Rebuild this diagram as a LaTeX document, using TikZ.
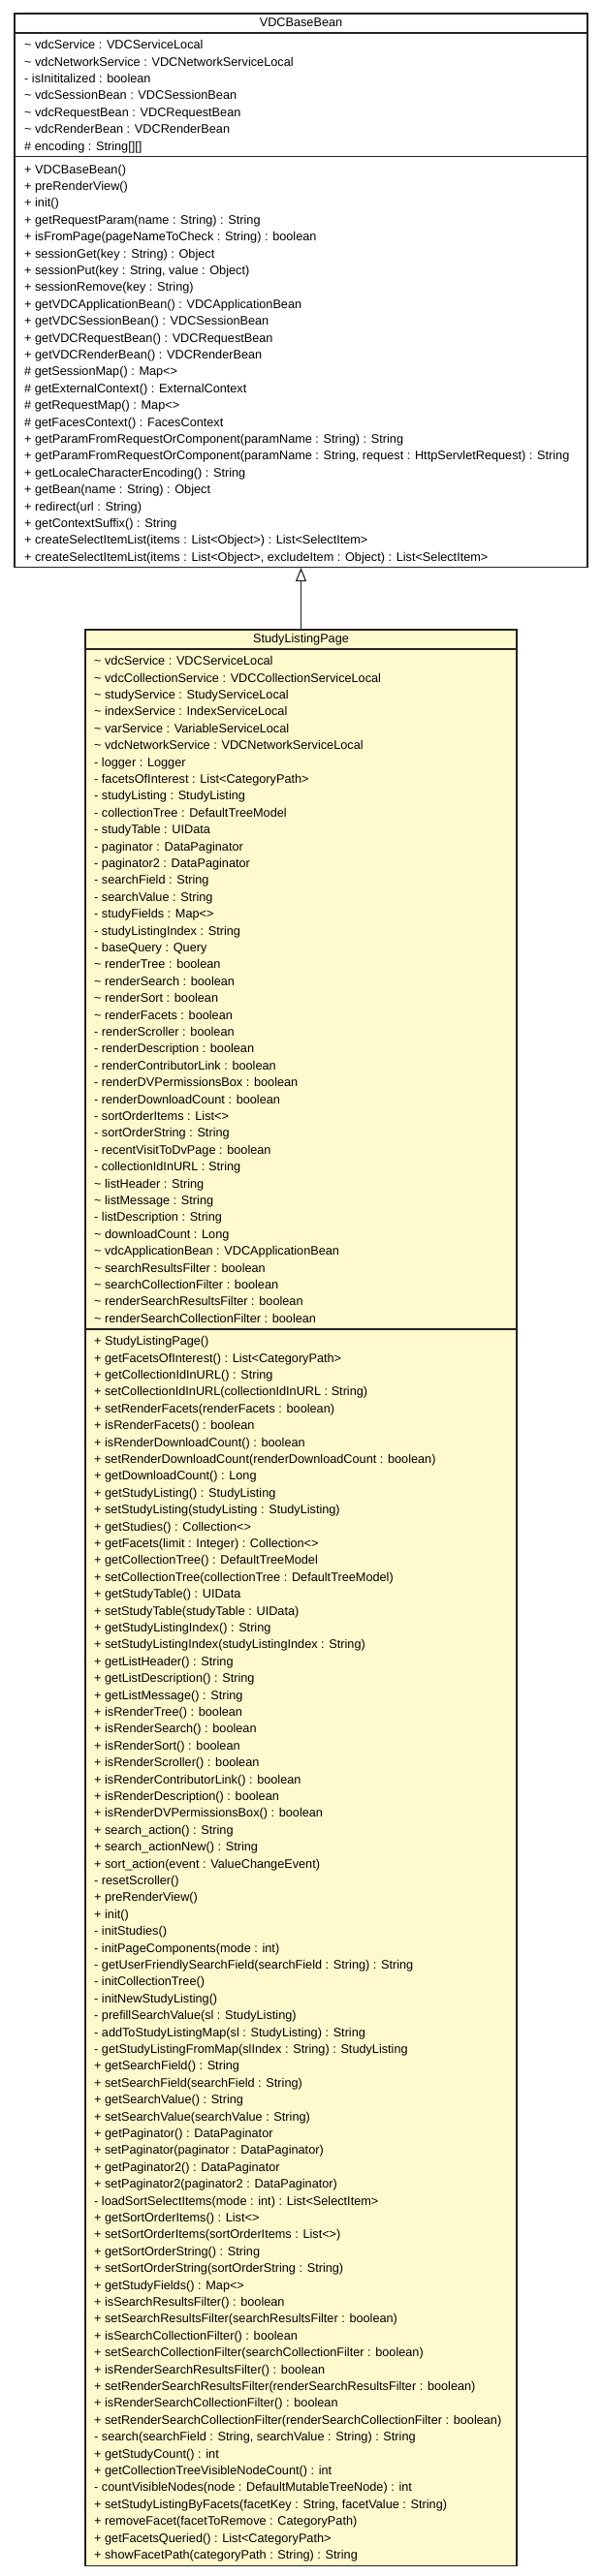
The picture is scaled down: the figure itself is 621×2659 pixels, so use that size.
\documentclass[tikz,border=0pt]{standalone}
\usepackage{fontspec}
\setmainfont{Liberation Sans}
\usetikzlibrary{arrows.meta}
\definecolor{classyellow}{HTML}{FFFACD}
\definecolor{edgecol}{HTML}{222222}
\newcommand\tl{\textasciitilde}
\begin{document}
\begin{tikzpicture}[x=1pt,y=-1pt,
  box/.style={draw=edgecol, line width=1.3pt, inner sep=0pt, rectangle},
  row/.style={anchor=west, inner sep=0pt, text height=9.5pt, text depth=2.5pt, font=\fontsize{12.7}{15}\selectfont},
  head/.style={inner sep=0pt, text height=9.5pt, text depth=2.5pt, font=\fontsize{12.7}{15}\selectfont},
  sep/.style={draw=edgecol, line width=1.3pt},
  inherit/.style={draw=edgecol, line width=1.1pt, -{Triangle[open, length=14pt, width=11pt, line width=1.1pt]}}]
\useasboundingbox (0,0) rectangle (621,2659);
% ---------- VDCBaseBean ----------
\node[box, fill=white, minimum width=591pt, minimum height=571.4pt] (base) at (310.5,299.7) {};
\node[head] (basehead) at (310.5,24) {VDCBaseBean};
\draw[sep] (15,34) -- (606,34);
\draw[sep] (15,161.8) -- (606,161.8);
\foreach \s [count=\i from 0] in {
 {\tl{} vdcService : VDCServiceLocal},
 {\tl{} vdcNetworkService : VDCNetworkServiceLocal},
 {- isInititalized : boolean},
 {\tl{} vdcSessionBean : VDCSessionBean},
 {\tl{} vdcRequestBean : VDCRequestBean},
 {\tl{} vdcRenderBean : VDCRenderBean},
 {\# encoding : String[][]}}
 \node[row] (ba\i) at (25,{47.2+17.4*\i}) {\s};
\foreach \s [count=\i from 0] in {
 {+ VDCBaseBean()},
 {+ preRenderView()},
 {+ init()},
 {+ getRequestParam(name : String) : String},
 {+ isFromPage(pageNameToCheck : String) : boolean},
 {+ sessionGet(key : String) : Object},
 {+ sessionPut(key : String, value : Object)},
 {+ sessionRemove(key : String)},
 {+ getVDCApplicationBean() : VDCApplicationBean},
 {+ getVDCSessionBean() : VDCSessionBean},
 {+ getVDCRequestBean() : VDCRequestBean},
 {+ getVDCRenderBean() : VDCRenderBean},
 {\# getSessionMap() : Map<>},
 {\# getExternalContext() : ExternalContext},
 {\# getRequestMap() : Map<>},
 {\# getFacesContext() : FacesContext},
 {+ getParamFromRequestOrComponent(paramName : String) : String},
 {+ getParamFromRequestOrComponent(paramName : String, request : HttpServletRequest) : String},
 {+ getLocaleCharacterEncoding() : String},
 {+ getBean(name : String) : Object},
 {+ redirect(url : String)},
 {+ getContextSuffix() : String},
 {+ createSelectItemList(items : List<Object>) : List<SelectItem>},
 {+ createSelectItemList(items : List<Object>, excludeItem : Object) : List<SelectItem>}}
 \node[row] (bm\i) at (25,{175.5+17.4*\i}) {\s};
% ---------- StudyListingPage ----------
\node[box, fill=classyellow, minimum width=445pt, minimum height=1998.2pt] (study) at (310.5,1649.1) {};
\node[head] (studyhead) at (310.5,660) {StudyListingPage};
\draw[sep] (88,670) -- (533,670);
\draw[sep] (88,1372) -- (533,1372);
\foreach \s [count=\i from 0] in {
 {\tl{} vdcService : VDCServiceLocal},
 {\tl{} vdcCollectionService : VDCCollectionServiceLocal},
 {\tl{} studyService : StudyServiceLocal},
 {\tl{} indexService : IndexServiceLocal},
 {\tl{} varService : VariableServiceLocal},
 {\tl{} vdcNetworkService : VDCNetworkServiceLocal},
 {- logger : Logger},
 {- facetsOfInterest : List<CategoryPath>},
 {- studyListing : StudyListing},
 {- collectionTree : DefaultTreeModel},
 {- studyTable : UIData},
 {- paginator : DataPaginator},
 {- paginator2 : DataPaginator},
 {- searchField : String},
 {- searchValue : String},
 {- studyFields : Map<>},
 {- studyListingIndex : String},
 {- baseQuery : Query},
 {\tl{} renderTree : boolean},
 {\tl{} renderSearch : boolean},
 {\tl{} renderSort : boolean},
 {\tl{} renderFacets : boolean},
 {- renderScroller : boolean},
 {- renderDescription : boolean},
 {- renderContributorLink : boolean},
 {- renderDVPermissionsBox : boolean},
 {- renderDownloadCount : boolean},
 {- sortOrderItems : List<>},
 {- sortOrderString : String},
 {- recentVisitToDvPage : boolean},
 {- collectionIdInURL : String},
 {\tl{} listHeader : String},
 {\tl{} listMessage : String},
 {- listDescription : String},
 {\tl{} downloadCount : Long},
 {\tl{} vdcApplicationBean : VDCApplicationBean},
 {\tl{} searchResultsFilter : boolean},
 {\tl{} searchCollectionFilter : boolean},
 {\tl{} renderSearchResultsFilter : boolean},
 {\tl{} renderSearchCollectionFilter : boolean}}
 \node[row] (sa\i) at (97,{683.2+17.4*\i}) {\s};
\foreach \s [count=\i from 0] in {
 {+ StudyListingPage()},
 {+ getFacetsOfInterest() : List<CategoryPath>},
 {+ getCollectionIdInURL() : String},
 {+ setCollectionIdInURL(collectionIdInURL : String)},
 {+ setRenderFacets(renderFacets : boolean)},
 {+ isRenderFacets() : boolean},
 {+ isRenderDownloadCount() : boolean},
 {+ setRenderDownloadCount(renderDownloadCount : boolean)},
 {+ getDownloadCount() : Long},
 {+ getStudyListing() : StudyListing},
 {+ setStudyListing(studyListing : StudyListing)},
 {+ getStudies() : Collection<>},
 {+ getFacets(limit : Integer) : Collection<>},
 {+ getCollectionTree() : DefaultTreeModel},
 {+ setCollectionTree(collectionTree : DefaultTreeModel)},
 {+ getStudyTable() : UIData},
 {+ setStudyTable(studyTable : UIData)},
 {+ getStudyListingIndex() : String},
 {+ setStudyListingIndex(studyListingIndex : String)},
 {+ getListHeader() : String},
 {+ getListDescription() : String},
 {+ getListMessage() : String},
 {+ isRenderTree() : boolean},
 {+ isRenderSearch() : boolean},
 {+ isRenderSort() : boolean},
 {+ isRenderScroller() : boolean},
 {+ isRenderContributorLink() : boolean},
 {+ isRenderDescription() : boolean},
 {+ isRenderDVPermissionsBox() : boolean},
 {+ search\_action() : String},
 {+ search\_actionNew() : String},
 {+ sort\_action(event : ValueChangeEvent)},
 {- resetScroller()},
 {+ preRenderView()},
 {+ init()},
 {- initStudies()},
 {- initPageComponents(mode : int)},
 {- getUserFriendlySearchField(searchField : String) : String},
 {- initCollectionTree()},
 {- initNewStudyListing()},
 {- prefillSearchValue(sl : StudyListing)},
 {- addToStudyListingMap(sl : StudyListing) : String},
 {- getStudyListingFromMap(slIndex : String) : StudyListing},
 {+ getSearchField() : String},
 {+ setSearchField(searchField : String)},
 {+ getSearchValue() : String},
 {+ setSearchValue(searchValue : String)},
 {+ getPaginator() : DataPaginator},
 {+ setPaginator(paginator : DataPaginator)},
 {+ getPaginator2() : DataPaginator},
 {+ setPaginator2(paginator2 : DataPaginator)},
 {- loadSortSelectItems(mode : int) : List<SelectItem>},
 {+ getSortOrderItems() : List<>},
 {+ setSortOrderItems(sortOrderItems : List<>)},
 {+ getSortOrderString() : String},
 {+ setSortOrderString(sortOrderString : String)},
 {+ getStudyFields() : Map<>},
 {+ isSearchResultsFilter() : boolean},
 {+ setSearchResultsFilter(searchResultsFilter : boolean)},
 {+ isSearchCollectionFilter() : boolean},
 {+ setSearchCollectionFilter(searchCollectionFilter : boolean)},
 {+ isRenderSearchResultsFilter() : boolean},
 {+ setRenderSearchResultsFilter(renderSearchResultsFilter : boolean)},
 {+ isRenderSearchCollectionFilter() : boolean},
 {+ setRenderSearchCollectionFilter(renderSearchCollectionFilter : boolean)},
 {- search(searchField : String, searchValue : String) : String},
 {+ getStudyCount() : int},
 {+ getCollectionTreeVisibleNodeCount() : int},
 {- countVisibleNodes(node : DefaultMutableTreeNode) : int},
 {+ setStudyListingByFacets(facetKey : String, facetValue : String)},
 {+ removeFacet(facetToRemove : CategoryPath)},
 {+ getFacetsQueried() : List<CategoryPath>},
 {+ showFacetPath(categoryPath : String) : String}}
 \node[row] (sm\i) at (97,{1385.2+17.4*\i}) {\s};
% ---------- generalization ----------
\draw[inherit] (study.north) -- (base.south);
\end{tikzpicture}
\end{document}
